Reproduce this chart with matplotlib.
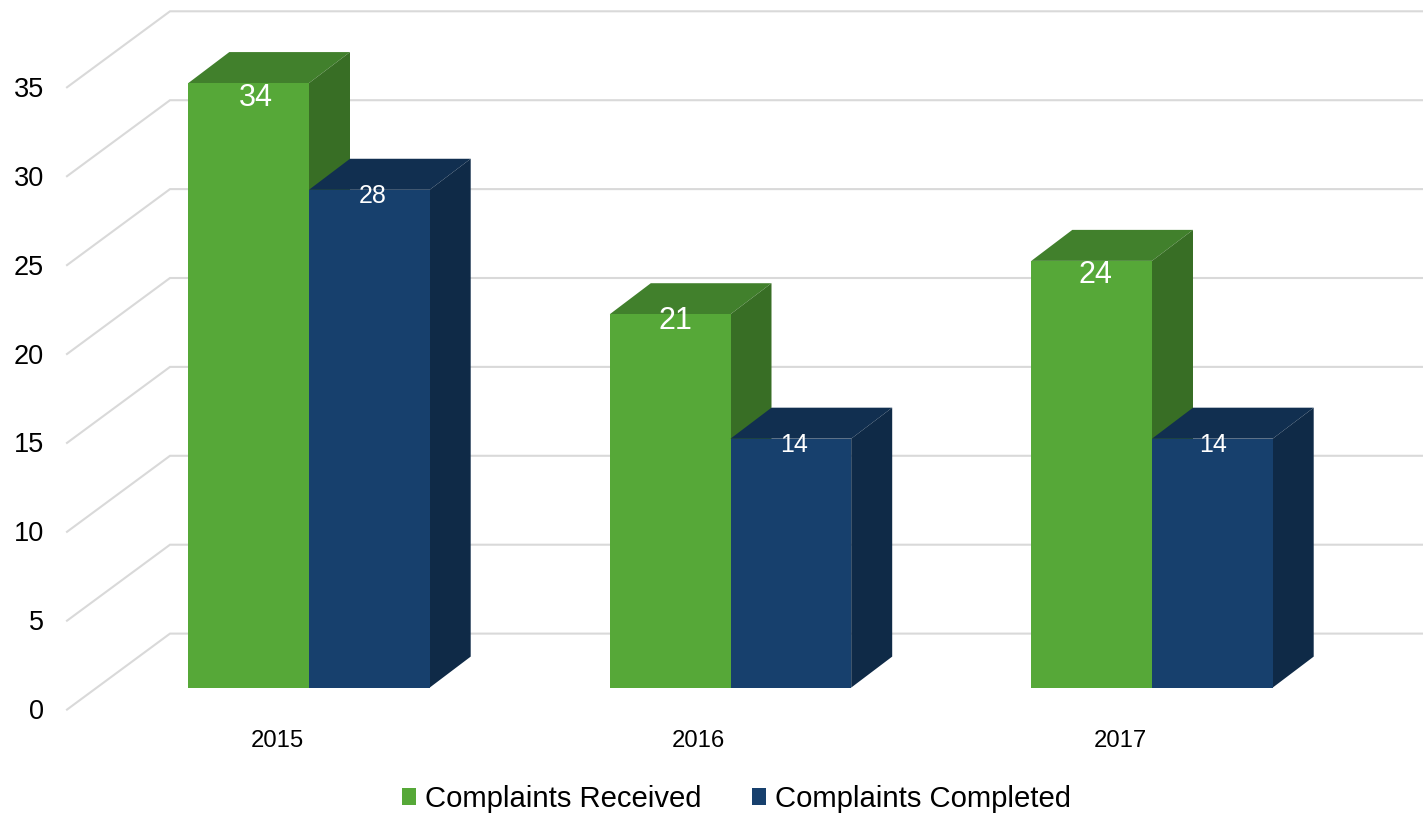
# Complaints received vs completed, fake 3D column chart
import matplotlib
matplotlib.use('Agg')
import matplotlib.pyplot as plt
from matplotlib.patches import Patch

plt.rcParams['font.family'] = ['Liberation Sans', 'DejaVu Sans']

# Data
years = ['2015', '2016', '2017']
received = [34, 21, 24]
completed = [28, 14, 14]
y_ticks = [0, 5, 10, 15, 20, 25, 30, 35]

# Pixel scales of the picture
W, H = 1423, 813
pxPerCat = 421.5
pxPerVal = 17.78
x0px = 309.0  # divider of the first pair
y0px = 687.6  # bar base
barW = 120.7 / pxPerCat

# depth offsets, converted to data units
barDx, barDy = 41 / pxPerCat, 31 / pxPerVal
wallFrontX, wallFrontY = (67 - x0px) / pxPerCat, (687 - 709) / pxPerVal
wallBackX, wallBackY = (170 - x0px) / pxPerCat, (687 - 633) / pxPerVal
gridEnd = (W - x0px) / pxPerCat

fig = plt.figure(figsize=(W / 100, H / 100), dpi=100)
ax = fig.add_axes([0, 0, 1, 1])
ax.set_xlim(-x0px / pxPerCat, (W - x0px) / pxPerCat)
ax.set_ylim((y0px - H) / pxPerVal, y0px / pxPerVal)
ax.axis('off')

# Walls
for t in y_ticks:
    ax.plot([wallFrontX, wallBackX, gridEnd],
            [t + wallFrontY, t + wallBackY, t + wallBackY],
            color='#D9D9D9', lw=1.5, solid_joinstyle='miter', zorder=1)
    ax.text(wallFrontX - 23 / pxPerCat, t + wallFrontY - 2.5 / pxPerVal, str(t), ha='right', va='center',
            fontsize=19.5, color='black')


def drawBar(x, val, front, top, side):
    ax.fill([x, x + barW, x + barW + barDx, x + barDx],
            [val, val, val + barDy, val + barDy], color=top, lw=0, zorder=2)
    ax.fill([x + barW, x + barW + barDx, x + barW + barDx, x + barW],
            [0, barDy, val + barDy, val], color=side, lw=0, zorder=2)
    ax.fill([x, x + barW, x + barW, x],
            [0, 0, val, val], color=front, lw=0, zorder=2)


# label nudges in px: how far under the bar top, and sideways from the bar centre
dropRec = [15, 7, 14]
dropCom = [6.5, 6.5, 6.5]
sideRec = [7, 5, 4]
sideCom = [3, 3, 1]

for i, year in enumerate(years):
    drawBar(i - barW, received[i], '#56A838', '#41802C', '#386E25')
    drawBar(i, completed[i], '#17406D', '#112F50', '#0F2A47')
    ax.text(i - barW / 2 + sideRec[i] / pxPerCat, received[i] - dropRec[i] / pxPerVal, str(received[i]),
            ha='center', va='center', fontsize=22, color='white', zorder=3)
    ax.text(i + barW / 2 + sideCom[i] / pxPerCat, completed[i] - dropCom[i] / pxPerVal, str(completed[i]),
            ha='center', va='center', fontsize=18, color='white', zorder=3)
    ax.text(i - 32 / pxPerCat, -53.5 / pxPerVal, year, ha='center', va='center',
            fontsize=17.2, color='black')

handles = [Patch(color='#56A838', lw=0, label='Complaints Received'),
           Patch(color='#17406D', lw=0, label='Complaints Completed')]
ax.legend(handles=handles, ncol=2, frameon=False, fontsize=21.1, loc='center',
          bbox_to_anchor=(736.5 / W, 1 - 799 / H), bbox_transform=fig.transFigure,
          handlelength=0.48, handleheight=0.48, handletextpad=0.28, columnspacing=1.75,
          borderpad=0, borderaxespad=0, labelcolor='black')

fig.savefig('out.png', dpi=100)
